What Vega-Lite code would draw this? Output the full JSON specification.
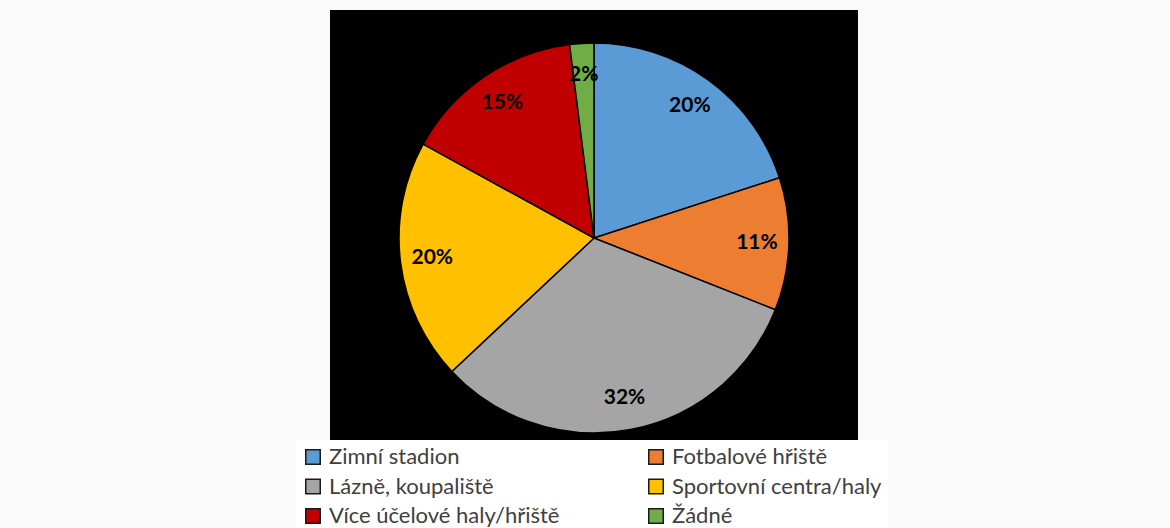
{
  "$schema": "https://vega.github.io/schema/vega-lite/v6.json",
  "width": 528,
  "height": 456,
  "autosize": {"type": "none"},
  "padding": {"left": 330, "top": 10, "right": 312, "bottom": 62},
  "background": "#fafafa",
  "view": {"fill": "#000000", "stroke": null},
  "data": {
    "values": [
      {"kategorie": "Zimní stadion", "podil": 0.20, "poradi": 1},
      {"kategorie": "Fotbalové hřiště", "podil": 0.11, "poradi": 2},
      {"kategorie": "Lázně, koupaliště", "podil": 0.32, "poradi": 3},
      {"kategorie": "Sportovní centra/haly", "podil": 0.20, "poradi": 4},
      {"kategorie": "Více účelové haly/hřiště", "podil": 0.15, "poradi": 5},
      {"kategorie": "Žádné", "podil": 0.02, "poradi": 6}
    ]
  },
  "encoding": {
    "theta": {"field": "podil", "type": "quantitative", "stack": true},
    "order": {"field": "poradi", "type": "quantitative"},
    "color": {
      "field": "kategorie",
      "type": "nominal",
      "scale": {
        "domain": ["Zimní stadion", "Lázně, koupaliště", "Více účelové haly/hřiště", "Fotbalové hřiště", "Sportovní centra/haly", "Žádné"],
        "range": ["#5B9BD5", "#A5A5A5", "#C00000", "#ED7D31", "#FFC000", "#70AD47"]
      },
      "legend": {
        "title": null,
        "orient": "none",
        "legendX": -34,
        "legendY": 430,
        "columns": 2,
        "columnPadding": 85,
        "rowPadding": 7.5,
        "padding": 6,
        "fillColor": "#ffffff",
        "symbolType": "square",
        "symbolSize": 210,
        "symbolStrokeColor": "#1a1a1a",
        "symbolStrokeWidth": 1.5,
        "symbolOpacity": 1,
        "labelFont": "Lato",
        "labelFontSize": 22,
        "labelColor": "#404040",
        "labelOffset": 5,
        "labelLimit": 400
      }
    }
  },
  "layer": [
    {
      "mark": {"type": "arc", "outerRadius": 195, "stroke": "#000000", "strokeWidth": 1.5}
    },
    {
      "mark": {"type": "text", "radius": 163, "font": "Lato", "fontSize": 21, "fontWeight": "bold", "fill": "#000000"},
      "encoding": {
        "text": {"field": "podil", "type": "quantitative", "format": ".0%"},
        "color": {"value": "#000000"}
      }
    }
  ]
}
